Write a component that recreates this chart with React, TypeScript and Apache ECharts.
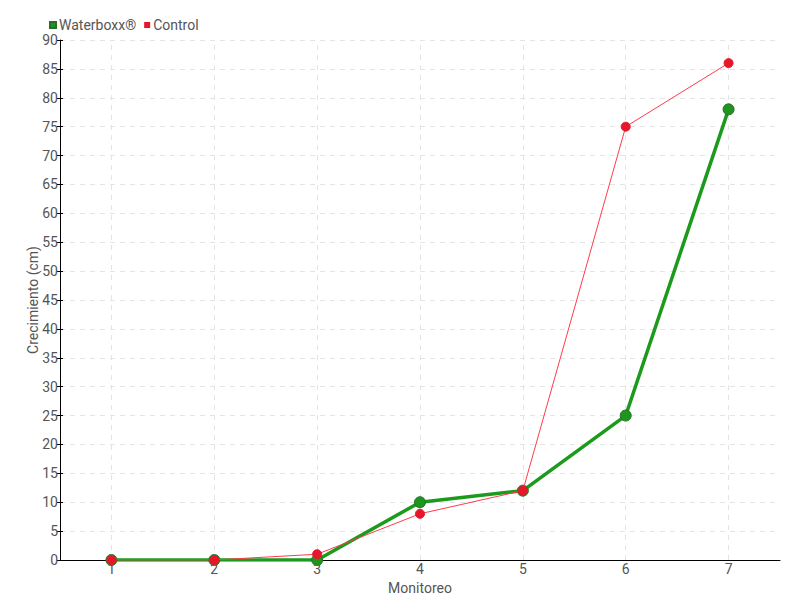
import React, { useEffect, useRef } from "react";
import * as echarts from "echarts";

const categories = ["1", "2", "3", "4", "5", "6", "7"];
const waterboxx = [0, 0, 0, 10, 12, 25, 78];
const control = [0, 0, 1, 8, 12, 75, 86];

const FONT = "Roboto, 'DejaVu Sans', sans-serif";
const GRID_COLOR = "#e4e4e4";

export default function App() {
  const ref = useRef<HTMLDivElement>(null);
  useEffect(() => {
    const chart = echarts.init(ref.current!, undefined, { renderer: "svg" });
    chart.setOption({
      animation: false,
      textStyle: { fontFamily: FONT },
      legend: {
        left: 44,
        top: 13,
        itemWidth: 6,
        itemHeight: 6,
        itemGap: 8,
        icon: "rect",
        textStyle: { color: "#555", fontSize: 14, fontFamily: FONT, padding: [0, 0, 0, -2] },
        data: ["Waterboxx®", "Control"],
      },
      grid: { left: 60, right: 20, top: 40, bottom: 40 },
      xAxis: {
        type: "category",
        data: categories,
        boundaryGap: true,
        name: "Monitoreo",
        nameLocation: "middle",
        nameGap: 15,
        nameTextStyle: { color: "#555", fontSize: 14, fontFamily: FONT },
        axisLine: { lineStyle: { color: "#000", width: 1 } },
        axisTick: { show: false },
        axisLabel: { color: "#555", fontSize: 14, margin: 2, fontFamily: FONT },
        splitLine: { show: false },
      },
      yAxis: [
        {
          type: "value",
          min: 0,
          max: 90,
          interval: 5,
          name: "Crecimiento (cm)",
          nameLocation: "middle",
          nameGap: 20,
          nameMoveOverlap: false,
          nameTextStyle: { color: "#555", fontSize: 14, fontFamily: FONT },
          axisLine: { show: true, lineStyle: { color: "#000", width: 1 } },
          axisTick: { show: true, length: 3, lineStyle: { color: "#000" } },
          axisLabel: { color: "#555", fontSize: 14, margin: 2, fontFamily: FONT },
          splitLine: { show: true, lineStyle: { color: GRID_COLOR, type: [5, 5] } },
        },
        {
          type: "value",
          position: "left",
          offset: 0,
          min: 0,
          max: 90,
          interval: 5,
          axisLine: { show: false },
          axisTick: { show: true, inside: true, length: 3, lineStyle: { color: "#000" } },
          axisLabel: { show: false },
          splitLine: { show: false },
        },
      ],
      series: [
        {
          name: "grid-x",
          type: "line",
          data: [],
          silent: true,
          z: 0,
          markLine: {
            silent: true,
            z: 0,
            symbol: "none",
            label: { show: false },
            lineStyle: { color: GRID_COLOR, type: [5, 5], width: 1 },
            data: categories.map((c) => ({ xAxis: c })),
          },
        },
        {
          name: "Waterboxx®",
          type: "line",
          z: 3,
          data: waterboxx,
          symbol: "circle",
          symbolSize: 11,
          itemStyle: { color: "#1c961c", borderColor: "#2a6e2a", borderWidth: 1 },
          lineStyle: { color: "#1c9a1c", width: 3.5 },
        },
        {
          name: "Control",
          type: "line",
          z: 4,
          data: control,
          symbol: "circle",
          symbolSize: 9,
          itemStyle: { color: "#e8162a", borderColor: "#e8162a" },
          lineStyle: { color: "#ff3b4d", width: 1 },
        },
      ],
    });
    return () => chart.dispose();
  }, []);
  return <div ref={ref} style={{ width: 800, height: 600, position: "absolute", left: 0, top: 0 }} />;
}
